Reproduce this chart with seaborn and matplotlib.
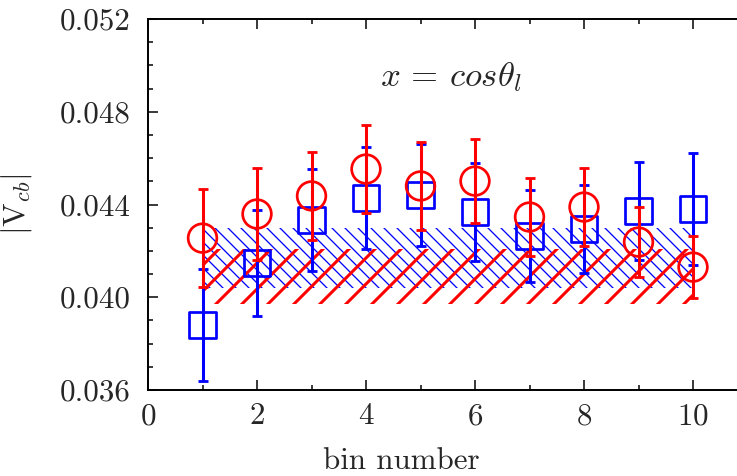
import matplotlib
matplotlib.use('Agg')
import matplotlib.pyplot as plt
import seaborn as sns
import pandas as pd
from matplotlib.ticker import MultipleLocator, FormatStrFormatter

# values
bins = [1, 2, 3, 4, 5, 6, 7, 8, 9, 10]
blue_val = [0.0388, 0.04148, 0.04333, 0.04428, 0.04441, 0.04368, 0.04264, 0.04294, 0.04372, 0.0438]
blue_err = [0.0024, 0.0023, 0.0022, 0.0022, 0.0022, 0.0021, 0.0020, 0.0019, 0.0021, 0.0024]
red_val = [0.04255, 0.04359, 0.04437, 0.04553, 0.0448, 0.04501, 0.04346, 0.04389, 0.04238, 0.0413]
red_err = [0.0021, 0.0020, 0.0019, 0.0019, 0.0019, 0.0018, 0.0017, 0.0017, 0.0015, 0.00135]
blue_band = [0.0404, 0.0430]
red_band = [0.0397, 0.0421]

sns.set_style('ticks')
plt.rcParams['font.family'] = ['cmr10', 'DejaVu Serif']
plt.rcParams['mathtext.fontset'] = 'cm'
plt.rcParams['axes.formatter.use_mathtext'] = True
plt.rcParams['axes.unicode_minus'] = False

DPI = 156
fig = plt.figure(figsize=(737 / DPI, 476 / DPI), dpi=DPI)
ax = fig.add_axes([148 / 737, 86 / 476, 599.5 / 737, 371 / 476])

band_x = [bins[0], bins[-1]]

# systematic bands
plt.rcParams['hatch.linewidth'] = 0.6
b = ax.fill_between(band_x, blue_band[0], blue_band[1], facecolor='none',
                    edgecolor='blue', hatch='\\\\\\\\', linewidth=0, zorder=1)
if hasattr(b, 'set_hatch_linewidth'):
    b.set_hatch_linewidth(0.6)
plt.rcParams['hatch.linewidth'] = 1.4
r = ax.fill_between(band_x, red_band[0], red_band[1], facecolor='none',
                    edgecolor='red', hatch='//', linewidth=0, zorder=1.5)
if hasattr(r, 'set_hatch_linewidth'):
    r.set_hatch_linewidth(1.4)

df_blue = pd.DataFrame({'bin': bins, 'val': blue_val, 'err': blue_err})
df_red = pd.DataFrame({'bin': bins, 'val': red_val, 'err': red_err})

ax.errorbar(df_blue['bin'], df_blue['val'], yerr=df_blue['err'], fmt='none',
            ecolor='blue', elinewidth=1.4, capsize=2.4, capthick=1.3, zorder=3)
sns.scatterplot(data=df_blue, x='bin', y='val', ax=ax, marker='s', s=150,
                color='blue', facecolor='none', edgecolor='blue', linewidth=1.25, zorder=3.5)
ax.errorbar(df_red['bin'], df_red['val'], yerr=df_red['err'], fmt='none',
            ecolor='red', elinewidth=1.4, capsize=2.4, capthick=1.3, zorder=4)
sns.scatterplot(data=df_red, x='bin', y='val', ax=ax, marker='o', s=175,
                color='red', facecolor='none', edgecolor='red', linewidth=1.25, zorder=4.5)

ax.set_xlim(0, 11)
ax.set_ylim(0.036, 0.052)
ax.xaxis.set_major_locator(MultipleLocator(2))
ax.xaxis.set_minor_locator(MultipleLocator(1))
ax.yaxis.set_major_locator(MultipleLocator(0.004))
ax.yaxis.set_minor_locator(MultipleLocator(0.001))
ax.yaxis.set_major_formatter(FormatStrFormatter('%.3f'))

ax.tick_params(which='both', direction='in', top=True, right=True, width=0.7, color='black')
ax.tick_params(which='major', length=4.6, labelsize=14.3, pad=6)
ax.tick_params(which='minor', length=2.3)
ax.tick_params(axis='y', which='major', pad=8)
for s in ax.spines.values():
    s.set_visible(True)
    s.set_linewidth(0.9)
    s.set_color('black')

ax.set_xlabel('bin number', fontsize=14.3)
ax.xaxis.set_label_coords(0.422, -0.155)
ax.set_ylabel(r'$|\mathrm{V}_{cb}|$', fontsize=14.5)
ax.yaxis.set_label_coords(-0.19, 0.5)

ax.text(5.56, 0.0495, r'$x\,=\,cos\theta_l$', fontsize=16, ha='center', va='center')

fig.savefig('out.png', dpi=DPI)
